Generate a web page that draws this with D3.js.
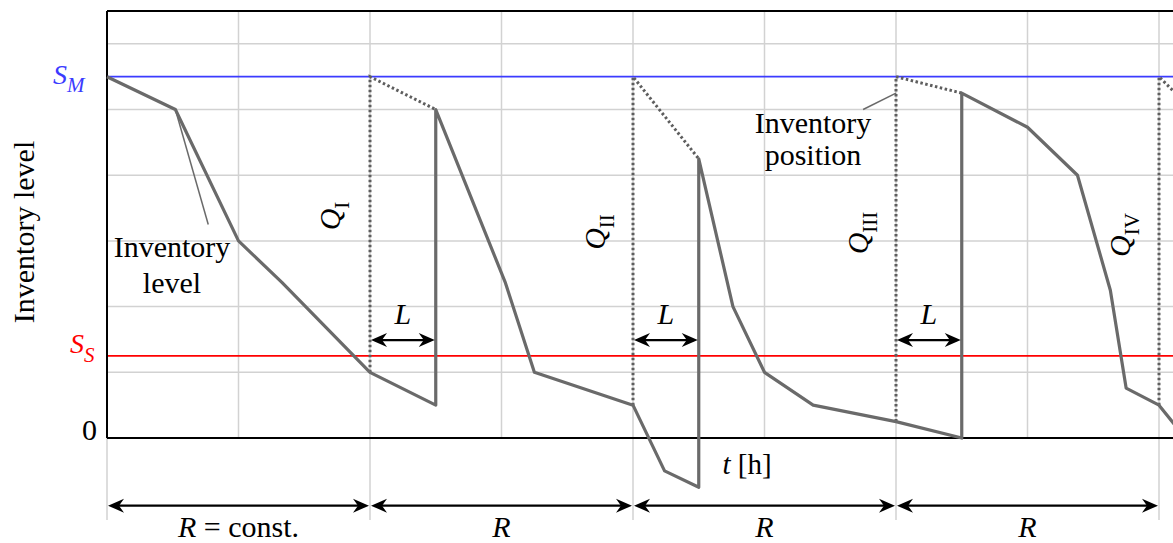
<!DOCTYPE html>
<html><head><meta charset="utf-8">
<script src="https://cdn.jsdelivr.net/npm/d3@7"></script>
<style>html,body{margin:0;padding:0;background:#fff;overflow:hidden}</style>
</head><body>
<svg id="c" width="1173" height="543"></svg>
<script>
// ---- data (t in grid units, level in grid units) ----
const levelT = [0, 0.52, 1.0, 1.33, 2.0, 2.5, 2.5, 3.03, 3.25, 4.0, 4.24, 4.5, 4.5, 4.76, 5.0, 5.37, 6.0, 6.5, 6.5, 7.0, 7.38, 7.63, 7.75, 8.0, 8.2];
const levelQ = [5.5, 5.0, 3.0, 2.37, 1.0, 0.5, 5.0, 2.36, 1.0, 0.5, -0.5, -0.75, 4.25, 2.0, 1.0, 0.5, 0.25, 0.0, 5.25, 4.73, 4.0, 2.25, 0.76, 0.5, 0.0];
const reviewT = [2, 4, 6, 8];
const reviewLevel = [1.0, 0.5, 0.25, 0.5];
const arrivalT = [2.5, 4.5, 6.5, 8.2];
const arrivalPosition = [5.0, 4.25, 5.25, 5.1];
const orderLabels = ["I", "II", "III", "IV"];
const SM = 5.5, SS = 1.25;
const gridT = [1, 3, 5, 7];
const periodT = [0, 2, 4, 6, 8];
const gridQ = [1, 2, 3, 4, 5, 6];
const periodLabels = ["R = const.", "R", "R", "R"];

// ---- scales ----
const W = 1173, H = 543;
const x = d3.scaleLinear().domain([0, 8]).range([107, 1159]);
const y = d3.scaleLinear().domain([0, 6.5]).range([438, 11]);
const svg = d3.select("#c");
const FONT = "'Liberation Serif', 'Times New Roman', serif";
const GRID = "#d2d2d2", LINE = "#6a6a6a";

// grid
svg.append("g").selectAll("line").data(gridQ).join("line")
  .attr("x1", x(0)).attr("x2", W).attr("y1", d => y(d)).attr("y2", d => y(d))
  .attr("stroke", GRID).attr("stroke-width", 1.5);
svg.append("g").selectAll("line").data(gridT).join("line")
  .attr("x1", d => x(d)).attr("x2", d => x(d)).attr("y1", y(6.5)).attr("y2", y(0))
  .attr("stroke", GRID).attr("stroke-width", 1.5);
svg.append("g").selectAll("line").data(periodT).join("line")
  .attr("x1", d => x(d)).attr("x2", d => x(d)).attr("y1", y(6.5)).attr("y2", y(-1.25))
  .attr("stroke", GRID).attr("stroke-width", 1.5);

// S_M and S_S lines
svg.append("line").attr("x1", x(0)).attr("x2", W).attr("y1", y(SM)).attr("y2", y(SM))
  .attr("stroke", "#3b3bff").attr("stroke-width", 1.8);
svg.append("line").attr("x1", x(0)).attr("x2", W).attr("y1", y(SS)).attr("y2", y(SS))
  .attr("stroke", "#ff0000").attr("stroke-width", 1.8);

// frame: top, left, zero axis
svg.append("line").attr("x1", x(0)).attr("x2", W).attr("y1", y(6.5)).attr("y2", y(6.5)).attr("stroke", "#000").attr("stroke-width", 2);
svg.append("line").attr("x1", x(0)).attr("x2", x(0)).attr("y1", y(6.5)).attr("y2", y(0)).attr("stroke", "#000").attr("stroke-width", 2);
svg.append("line").attr("x1", x(0)).attr("x2", W).attr("y1", y(0)).attr("y2", y(0)).attr("stroke", "#000").attr("stroke-width", 2);

// inventory position (dotted)
const lineGen = d3.line().x(d => x(d[0])).y(d => y(d[1]));
reviewT.forEach((t, i) => {
  const pts = [[t, reviewLevel[i]], [t, SM], [arrivalT[i], arrivalPosition[i]]];
  svg.append("path").attr("d", lineGen(pts)).attr("fill", "none")
    .attr("stroke", "#5e5e5e").attr("stroke-width", 3).attr("stroke-dasharray", "2.5,2.5");
});

// inventory level (solid)
const levelPts = levelT.map((t, i) => [t, levelQ[i]]);
svg.append("path").attr("d", lineGen(levelPts)).attr("fill", "none")
  .attr("stroke", LINE).attr("stroke-width", 3.2).attr("stroke-linejoin", "round");

// leader lines
svg.append("line").attr("x1", x(0.52)).attr("y1", y(5.0)).attr("x2", x(0.77)).attr("y2", y(3.25))
  .attr("stroke", LINE).attr("stroke-width", 1.5);
svg.append("line").attr("x1", x(5.75)).attr("y1", y(5.0)).attr("x2", x(6.0)).attr("y2", y(5.25))
  .attr("stroke", LINE).attr("stroke-width", 1.5);

// arrows
function head(g, xt, yy, dir) {
  const L = 16, w = 7, n = 11;
  g.append("path")
    .attr("d", `M${xt},${yy} L${xt - dir * L},${yy - w} L${xt - dir * n},${yy} L${xt - dir * L},${yy + w} Z`)
    .attr("fill", "#000");
}
function dblArrow(x1, x2, yy) {
  const g = svg.append("g");
  g.append("line").attr("x1", x1 + 4).attr("x2", x2 - 4).attr("y1", yy).attr("y2", yy)
    .attr("stroke", "#000").attr("stroke-width", 2.2);
  head(g, x1, yy, -1);
  head(g, x2, yy, 1);
}
for (let i = 0; i < periodT.length - 1; i++) dblArrow(x(periodT[i]) + 1, x(periodT[i + 1]) - 1, y(-1.03));
reviewT.slice(0, 3).forEach((t, i) => dblArrow(x(t) + 1, x(arrivalT[i]) - 1, y(1.49)));

// text helpers
function txt(xx, yy, anchor, size) {
  return svg.append("text").attr("x", xx).attr("y", yy).attr("text-anchor", anchor)
    .attr("font-family", FONT).attr("font-size", size).attr("fill", "#000");
}

// y axis label
svg.append("text").attr("transform", "translate(34,232) rotate(-90)").attr("text-anchor", "middle")
  .attr("font-family", FONT).attr("font-size", 30).text("Inventory level");
// zero
txt(97, 440, "end", 30).text("0");
// S_M
{
  const t = txt(53, 84, "start", 28).attr("fill", "#3b3bff").attr("font-style", "italic");
  t.append("tspan").text("S");
  t.append("tspan").attr("font-size", 21).attr("dy", 8).text("M");
}
{
  const t = txt(70, 353, "start", 28).attr("fill", "#ff0000").attr("font-style", "italic");
  t.append("tspan").text("S");
  t.append("tspan").attr("font-size", 21).attr("dy", 9).text("S");
}

// Q labels
const qPos = [[340, 216], [605, 232], [868, 233], [1130, 235]];
orderLabels.forEach((lab, i) => {
  const t = svg.append("text").attr("transform", `translate(${qPos[i][0]},${qPos[i][1]}) rotate(-90)`)
    .attr("text-anchor", "middle").attr("font-family", FONT).attr("font-size", 30);
  t.append("tspan").attr("font-style", "italic").text("Q");
  t.append("tspan").attr("font-size", 21).attr("dy", 9).text(lab);
});

// L labels
reviewT.slice(0, 3).forEach((t, i) => {
  txt((x(t) + x(arrivalT[i])) / 2, y(1.73), "middle", 30).attr("font-style", "italic").text("L");
});

// annotations
txt(172, 257, "middle", 30).text("Inventory");
txt(172, 293, "middle", 30).text("level");
txt(813, 133, "middle", 30).text("Inventory");
txt(813, 165, "middle", 30).text("position");

// t [h]
{
  const t = txt(747, 474, "middle", 29);
  t.append("tspan").attr("font-style", "italic").text("t");
  t.append("tspan").text(" [h]");
}

// R labels
periodLabels.forEach((lab, i) => {
  const t = txt((x(periodT[i]) + x(periodT[i + 1])) / 2, 537, "middle", 30);
  t.append("tspan").attr("font-style", "italic").text("R");
  if (lab.length > 1) t.append("tspan").text(lab.slice(1));
});
</script>
</body></html>
